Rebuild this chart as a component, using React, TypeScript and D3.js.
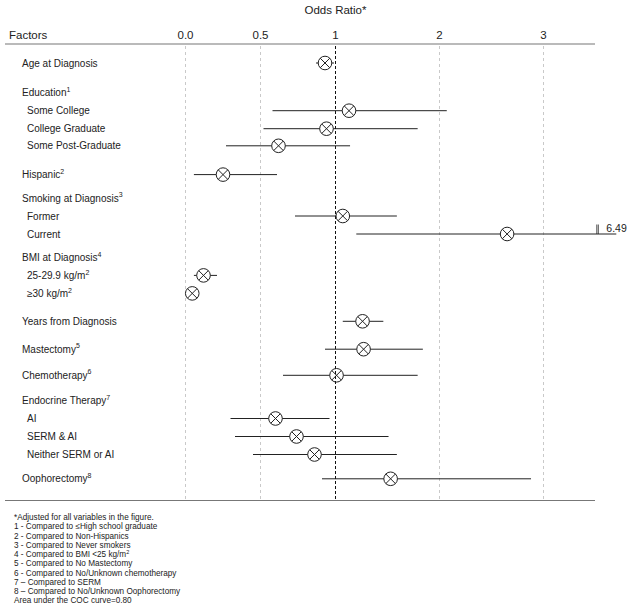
import React from "react";
import * as d3 from "d3";

// ---- data ----
const labels = [
  "Age at Diagnosis",
  "Education",
  "Some College",
  "College Graduate",
  "Some Post-Graduate",
  "Hispanic",
  "Smoking at Diagnosis",
  "Former",
  "Current",
  "BMI at Diagnosis",
  "25-29.9 kg/m",
  "\u226530 kg/m",
  "Years from Diagnosis",
  "Mastectomy",
  "Chemotherapy",
  "Endocrine Therapy",
  "AI",
  "SERM & AI",
  "Neither SERM or AI",
  "Oophorectomy",
];
const superscripts = ["", "1", "", "", "", "2", "3", "", "", "4", "2", "2", "", "5", "6", "7", "", "", "", "8"];
const levels = [0, 0, 1, 1, 1, 0, 0, 1, 1, 0, 1, 1, 0, 0, 0, 0, 1, 1, 1, 0];
const oddsRatios: (number | null)[] = [0.93, null, 1.13, 0.94, 0.62, 0.25, null, 1.07, 2.65, null, 0.12, 0.045, 1.26, 1.27, 1.01, null, 0.6, 0.74, 0.86, 1.53];
const ciLower: (number | null)[] = [0.87, null, 0.58, 0.52, 0.27, 0.056, null, 0.73, 1.2, null, 0.056, 0.03, 1.07, 0.93, 0.65, null, 0.3, 0.33, 0.45, 0.91];
const ciUpper: (number | null)[] = [0.99, null, 2.07, 1.79, 1.14, 0.61, null, 1.59, 6.49, null, 0.21, 0.06, 1.46, 1.84, 1.79, null, 0.96, 1.51, 1.59, 2.88];
const tickValues = [0, 0.5, 1, 2, 3];
const tickLabels = ["0.0", "0.5", "1", "2", "3"];
const axisCap = 3.7;
const footnoteTexts = [
  "*Adjusted for all variables in the figure.",
  "1 - Compared to \u2264High school graduate",
  "2 - Compared to Non-Hispanics",
  "3 - Compared to Never smokers",
  "4 - Compared to BMI <25 kg/m",
  "5 - Compared to No Mastectomy",
  "6 - Compared to No/Unknown chemotherapy",
  "7 \u2013 Compared to SERM",
  "8 \u2013 Compared to No/Unknown Oophorectomy",
  "Area under the COC curve=0.80",
];
const footnoteSups = ["", "", "", "", "2", "", "", "", "", ""];

// ---- layout ----
const W = 631;
const H = 609;
const rowGapBefore = [0, 1.65, 1, 1, 0.95, 1.6, 1.3, 1, 1, 1.3, 1, 1, 1.55, 1.55, 1.45, 1.4, 1, 1, 1, 1.35];
const rowUnit = 18;
const firstRowY = 63;
const font = "'Liberation Sans', Arial, Helvetica, sans-serif";
const ink = "#222";

export default function App() {
  const x = d3.scaleLinear().domain([0, 1, 3]).range([185.5, 335.5, 543.5]);
  const cum = d3.cumsum(rowGapBefore);
  const y = (i: number) => firstRowY + cum[i] * rowUnit;
  const gridTop = 46;
  const gridBottom = 500;
  const r = 6.8;
  const d45 = r * Math.SQRT1_2;

  return (
    <svg
      width={W}
      height={H}
      style={{ position: "absolute", left: 0, top: 0, background: "#fff" }}
      fontFamily={font}
    >
      <rect x={0} y={0} width={W} height={H} fill="#fff" />
      {/* title */}
      <text x={x(1)} y={14} textAnchor="middle" fontSize={11.5} fill={ink}>
        Odds Ratio*
      </text>
      {/* header row */}
      <text x={9} y={39} fontSize={11.5} fill={ink}>
        Factors
      </text>
      {tickValues.map((v, i) => (
        <text key={"t" + i} x={x(v)} y={39} textAnchor="middle" fontSize={11.5} fill={ink}>
          {tickLabels[i]}
        </text>
      ))}
      <line x1={5} x2={595} y1={44} y2={44} stroke="#777" strokeWidth={1.2} />
      <line x1={5} x2={595} y1={500.5} y2={500.5} stroke="#777" strokeWidth={1.2} />

      {/* grid lines */}
      {tickValues
        .filter((v) => v !== 1)
        .map((v, i) => (
          <line
            key={"g" + i}
            x1={x(v)}
            x2={x(v)}
            y1={gridTop}
            y2={gridBottom}
            stroke="#bbb"
            strokeWidth={0.8}
            strokeDasharray="3,3"
          />
        ))}

      {/* rows */}
      {labels.map((lab, i) => {
        const yy = y(i);
        const or = oddsRatios[i];
        const lo = ciLower[i];
        const hi = ciUpper[i];
        const clipped = hi != null && hi > axisCap;
        return (
          <g key={"r" + i}>
            <text x={22 + levels[i] * 5} y={yy + 3.6} fontSize={10} fill={ink}>
              {lab}
              {superscripts[i] && (
                <tspan dy={-4.5} fontSize={7}>
                  {superscripts[i]}
                </tspan>
              )}
            </text>
            {or != null && lo != null && hi != null && (
              <g>
                <line
                  x1={x(lo)}
                  x2={x(Math.min(hi, axisCap))}
                  y1={yy}
                  y2={yy}
                  stroke={ink}
                  strokeWidth={1}
                />
                {clipped && (
                  <g>
                    <line x1={x(axisCap) - 19.5} x2={x(axisCap) - 19.5} y1={yy - 9.5} y2={yy} stroke={ink} strokeWidth={0.8} />
                    <line x1={x(axisCap) - 18} x2={x(axisCap) - 18} y1={yy - 9.5} y2={yy} stroke={ink} strokeWidth={0.8} />
                    <text x={x(axisCap) - 10} y={yy - 2.5} fontSize={10.5} fill={ink}>
                      {d3.format(".2f")(hi)}
                    </text>
                  </g>
                )}
                <circle cx={x(or)} cy={yy} r={r} fill="#fff" stroke={ink} strokeWidth={1} />
                <line x1={x(or) - d45} x2={x(or) + d45} y1={yy - d45} y2={yy + d45} stroke={ink} strokeWidth={1} />
                <line x1={x(or) - d45} x2={x(or) + d45} y1={yy + d45} y2={yy - d45} stroke={ink} strokeWidth={1} />
              </g>
            )}
          </g>
        );
      })}

      {/* reference line at OR = 1 */}
      <line
        x1={x(1)}
        x2={x(1)}
        y1={gridTop}
        y2={gridBottom}
        stroke="#111"
        strokeWidth={1}
        strokeDasharray="3,2"
      />

      {/* footnotes */}
      {footnoteTexts.map((t, i) => (
        <text key={"f" + i} x={14} y={520 + i * 9.25} fontSize={8.2} fill={ink}>
          {t}
          {footnoteSups[i] && (
            <tspan dy={-3} fontSize={5.5}>
              {footnoteSups[i]}
            </tspan>
          )}
        </text>
      ))}
    </svg>
  );
}
